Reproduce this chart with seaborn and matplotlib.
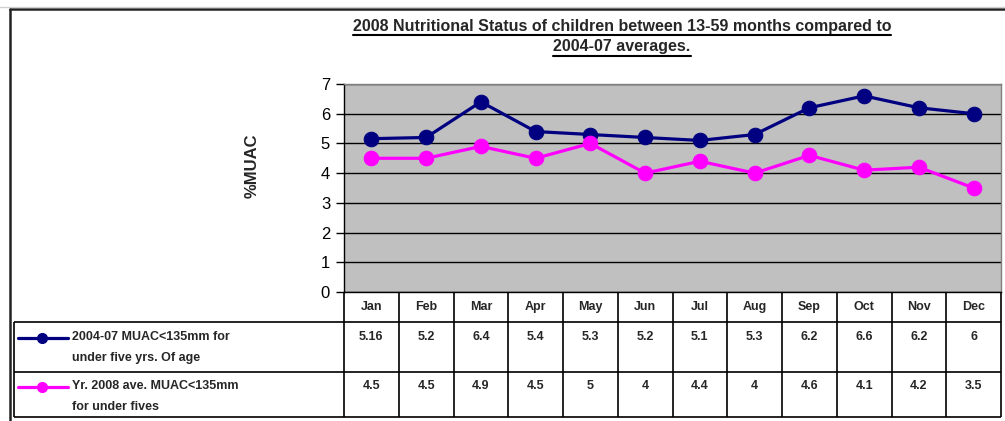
import numpy as np
import pandas as pd
import seaborn as sns
import matplotlib.pyplot as plt
from matplotlib.lines import Line2D

months = ["Jan", "Feb", "Mar", "Apr", "May", "Jun",
          "Jul", "Aug", "Sep", "Oct", "Nov", "Dec"]
avg_0407 = [5.16, 5.2, 6.4, 5.4, 5.3, 5.2, 5.1, 5.3, 6.2, 6.6, 6.2, 6]
yr_2008 = [4.5, 4.5, 4.9, 4.5, 5, 4, 4.4, 4, 4.6, 4.1, 4.2, 3.5]
series_names = ["2004-07 MUAC<135mm for\nunder five yrs. Of age",
                "Yr. 2008 ave. MUAC<135mm\nfor under fives"]
series_colors = ["#000080", "#FF00FF"]
y_ticks = [0, 1, 2, 3, 4, 5, 6, 7]

sns.set_style("white")
plt.rcParams["font.family"] = ["Liberation Sans", "DejaVu Sans"]

W, H = 1005, 421


def fx(px):
    return px / W


def fy(py):
    return 1 - py / H


df = pd.concat([
    pd.DataFrame({"month": months, "value": vals, "series": name})
    for name, vals in zip(series_names, [avg_0407, yr_2008])
])

fig = plt.figure(figsize=(W / 100, H / 100), dpi=100)

# plot area
left, right, top, bottom = 344, 1001, 84, 292
ax = fig.add_axes([fx(left), fy(bottom), fx(right) - fx(left), fy(top) - fy(bottom)])
ax.set_facecolor("#C0C0C0")
sns.lineplot(data=df, x="month", y="value", hue="series", palette=series_colors,
             sort=False, marker="o", markersize=10.5, markeredgecolor=None,
             linewidth=2.3, legend=False, ax=ax, zorder=3)
for ln, c in zip(ax.lines, series_colors):
    ln.set_markeredgecolor(c)
ax.set_xlim(-0.5, len(months) - 0.5)
ax.set_ylim(0, 7)
ax.set_yticks(y_ticks)
ax.set_xticks([])
ax.set_xlabel("")
ax.set_ylabel("")
ax.tick_params(axis="y", left=True, direction="out", length=6, width=1,
               labelsize=12, pad=4, colors="black")
ax.grid(axis="y", color="black", linewidth=1)
ax.set_axisbelow(True)
for side in ["top", "right"]:
    ax.spines[side].set_color("#808080")
ax.spines["left"].set_color("black")
ax.spines["bottom"].set_color("black")
for s in ax.spines.values():
    s.set_linewidth(1)

fig.text(fx(252), fy(166), "%MUAC", rotation=90, ha="center", va="center",
         fontsize=12, fontweight="bold")

# data table under the plot
tab = fig.add_axes([0, 0, 1, 1], facecolor="none")
tab.set_xlim(0, W)
tab.set_ylim(H, 0)
tab.axis("off")

col_w = (right - left) / len(months)
row_y = [292, 322, 372, 417]
tab.hlines(row_y[1:], 14, right, color="black", lw=1.2)
tab.vlines([left + i * col_w for i in range(len(months) + 1)], 292, 417,
           color="black", lw=1.2)
tab.vlines([14], 322, 417, color="black", lw=1.2)

for i, m in enumerate(months):
    cx = left + (i + 0.5) * col_w
    tab.text(cx, 307, m, ha="center", va="center", fontsize=9, fontweight="bold")
    tab.text(cx, 337, f"{avg_0407[i]:g}", ha="center", va="center",
             fontsize=9, fontweight="bold")
    tab.text(cx, 386, f"{yr_2008[i]:g}", ha="center", va="center",
             fontsize=9, fontweight="bold")

for name, c, yy in zip(series_names, series_colors, [338, 387]):
    tab.plot([18, 68], [yy, yy], color=c, lw=2.3)
    tab.plot([42], [yy], marker="o", color=c, markersize=7)
    tab.text(72, yy - 7, name, ha="left", va="top", fontsize=9,
             fontweight="bold", linespacing=2.05)

# title (underlined)
title_lines = ["2008 Nutritional Status of children between 13-59 months compared to",
               "2004-07 averages."]
fig.canvas.draw()
renderer = fig.canvas.get_renderer()
for txt, yy in zip(title_lines, [26, 47]):
    t = fig.text(fx(622), fy(yy), txt, ha="center", va="center",
                 fontsize=11.5, fontweight="bold")
    bb = t.get_window_extent(renderer=renderer)
    fig.add_artist(Line2D([bb.x0 / W, bb.x1 / W], [fy(yy + 9)] * 2,
                          color="black", lw=1.5))

# outer chart frame
fig.add_artist(Line2D([fx(10), fx(10)], [0, fy(9)], color="#222222", lw=1.8))
fig.add_artist(Line2D([fx(10), 1], [fy(9), fy(9)], color="#222222", lw=1.8))
fig.add_artist(Line2D([0, 1], [fy(7), fy(7)], color="#D0D0D0", lw=1))

fig.savefig("out.png", dpi=100)
